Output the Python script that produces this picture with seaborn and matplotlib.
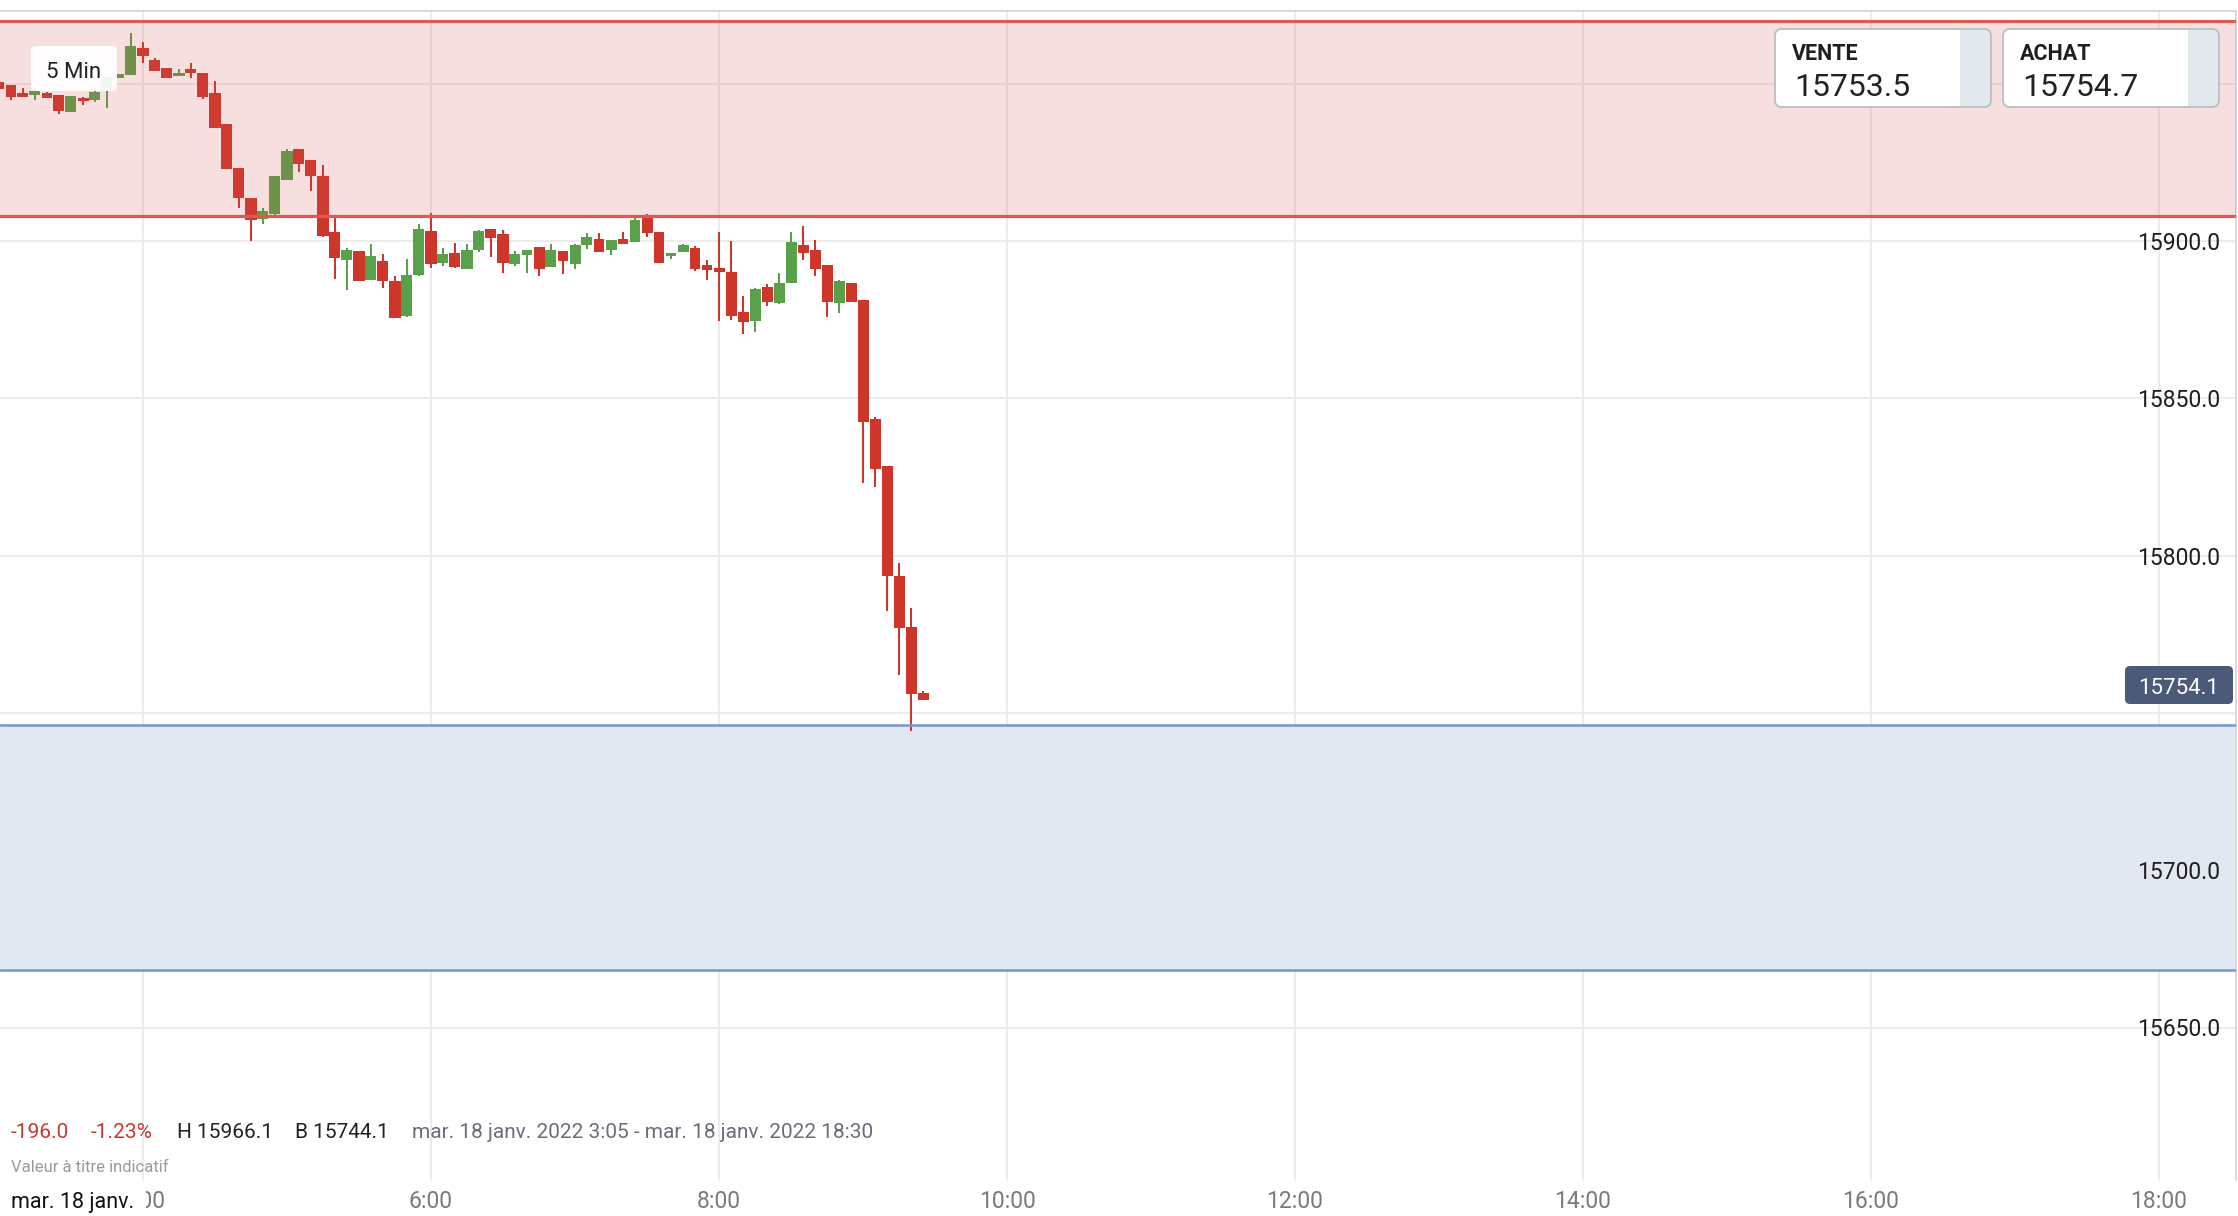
import matplotlib
matplotlib.use("Agg")
import matplotlib.pyplot as plt
import matplotlib.transforms as mtransforms
from matplotlib.patches import FancyBboxPatch, Rectangle
import pandas as pd
import seaborn as sns

# 5 minute candles, 18 Jan 2022 from 3:00
opens = [15950.5, 15949.6, 15947.0, 15946.5, 15947.0, 15946.4, 15941.1, 15945.5, 15944.8, 15948.0, 15951.9, 15952.8,
         15961.4, 15957.5, 15955.0, 15952.6, 15954.7, 15953.4, 15947.0, 15937.2, 15923.2, 15913.7, 15907.1, 15908.7,
         15919.5, 15929.2, 15925.8, 15920.7, 15902.9, 15894.0, 15896.8, 15887.6, 15893.6, 15887.3, 15876.2, 15889.2,
         15903.2, 15893.0, 15896.2, 15891.1, 15897.1, 15903.8, 15902.2, 15892.7, 15895.5, 15898.1, 15891.7, 15896.8,
         15892.7, 15898.7, 15900.6, 15897.1, 15900.6, 15899.7, 15907.6, 15902.9, 15895.2, 15896.5, 15897.8, 15892.4,
         15891.4, 15890.1, 15877.4, 15874.6, 15885.4, 15880.3, 15886.6, 15898.7, 15897.1, 15892.4, 15880.3, 15886.6,
         15881.2, 15843.4, 15828.5, 15793.5, 15777.3, 15756.3]
highs = [15950.5, 15949.6, 15948.6, 15948.5, 15947.5, 15946.4, 15946.1, 15945.8, 15948.5, 15952.2, 15953.1, 15966.1,
         15963.3, 15958.2, 15955.0, 15954.7, 15956.6, 15953.4, 15950.9, 15937.2, 15923.2, 15913.7, 15910.5, 15920.7,
         15929.4, 15929.2, 15925.8, 15924.2, 15907.3, 15897.8, 15896.8, 15899.0, 15895.9, 15888.9, 15894.3, 15905.4,
         15908.9, 15897.8, 15899.4, 15899.0, 15903.5, 15903.8, 15903.5, 15896.8, 15897.1, 15898.1, 15899.0, 15896.8,
         15899.0, 15902.5, 15902.5, 15900.3, 15902.9, 15907.3, 15908.5, 15902.9, 15896.2, 15899.1, 15898.4, 15894.0,
         15902.9, 15900.0, 15882.5, 15885.1, 15886.3, 15889.8, 15902.9, 15904.8, 15900.3, 15892.4, 15887.6, 15886.6,
         15881.2, 15844.1, 15828.5, 15797.6, 15783.3, 15757.0]
lows = [15948.4, 15944.8, 15945.9, 15944.8, 15945.6, 15940.5, 15941.1, 15943.3, 15944.2, 15942.3, 15951.9, 15952.8,
        15956.7, 15954.1, 15951.9, 15952.6, 15951.9, 15945.2, 15936.0, 15923.0, 15910.6, 15900.1, 15905.5, 15908.1,
        15919.5, 15922.0, 15916.0, 15901.4, 15888.0, 15884.4, 15887.3, 15887.6, 15885.1, 15875.6, 15875.9, 15888.9,
        15891.4, 15892.1, 15891.4, 15891.1, 15896.5, 15894.9, 15889.8, 15892.1, 15889.8, 15888.9, 15891.7, 15889.5,
        15891.1, 15897.5, 15896.5, 15895.5, 15899.1, 15899.7, 15901.3, 15893.0, 15894.3, 15896.5, 15890.5, 15887.6,
        15874.6, 15874.9, 15870.4, 15871.1, 15879.3, 15880.0, 15886.6, 15894.0, 15888.9, 15875.8, 15877.1, 15880.6,
        15823.1, 15821.8, 15782.4, 15762.0, 15744.1, 15754.1]
closes = [15948.4, 15945.9, 15945.9, 15947.7, 15945.6, 15941.4, 15946.1, 15944.6, 15947.4, 15952.2, 15953.1, 15962.0,
          15958.9, 15954.1, 15951.9, 15953.4, 15953.4, 15945.9, 15936.0, 15923.0, 15913.8, 15906.8, 15909.5, 15920.7,
          15928.6, 15924.6, 15920.8, 15901.7, 15894.7, 15897.2, 15887.3, 15895.2, 15887.3, 15875.6, 15889.2, 15903.8,
          15892.7, 15895.9, 15891.7, 15897.1, 15903.2, 15901.0, 15893.0, 15895.9, 15897.1, 15891.1, 15897.1, 15893.6,
          15898.7, 15901.3, 15896.5, 15900.3, 15899.1, 15906.7, 15902.5, 15893.0, 15896.2, 15898.7, 15891.1, 15890.8,
          15890.1, 15876.2, 15874.2, 15884.7, 15880.6, 15886.6, 15899.7, 15896.2, 15891.1, 15880.6, 15887.3, 15880.6,
          15842.5, 15827.5, 15793.6, 15777.0, 15756.0, 15754.1]

resistance_zone = [15908.0, 15970.0]
support_zone = [15668.2, 15746.0]
last_price = "15754.1"
sell_price = "15753.5"
buy_price = "15754.7"
hour_ticks = [4, 6, 8, 10, 12, 14, 16, 18]
price_ticks = [15650, 15700, 15750, 15800, 15850, 15900, 15950]
price_labels = ["15650.0", "15700.0", "", "15800.0", "15850.0", "15900.0", ""]

df = pd.DataFrame({"open": opens, "high": highs, "low": lows, "close": closes})
df["time"] = pd.date_range("2022-01-18 03:00", periods=len(df), freq="5min")
df["hour"] = df["time"].dt.hour + df["time"].dt.minute / 60
df["up"] = df["close"] >= df["open"]

sns.set_theme(style="white")
plt.rcParams["font.family"] = ["Roboto", "DejaVu Sans"]

W, H = 2238, 1216
RED, GREEN = "#cf362b", "#58a14a"
VA = "center_baseline"


def fx(x):
    return x / W


def fy(y):
    return 1 - y / H


fig = plt.figure(figsize=(W / 100, H / 100), dpi=100)
fig.patch.set_facecolor("white")
ax = fig.add_axes([0, fy(1180), fx(2236), (1180 - 11) / H])
ax.set_facecolor("white")

# candles
colors = [GREEN if u else RED for u in df["up"]]
ax.vlines(df["hour"], df["low"], df["high"], colors=colors, linewidth=1.45, zorder=2)
body = (df["close"] - df["open"]).abs().clip(lower=0.7)
ax.bar(df["hour"], body, bottom=df[["open", "close"]].min(axis=1), width=11 / 144,
       color=colors, linewidth=0, zorder=3)

# zones
ax.axhspan(resistance_zone[0], resistance_zone[1], color="#d9534f", alpha=0.18, lw=0, zorder=4)
for v in resistance_zone:
    ax.axhline(v, color="#dc5a52", lw=2.3, zorder=5)
ax.axhspan(support_zone[0], support_zone[1], color="#e1e8f2", lw=0, zorder=1)
for v in support_zone:
    ax.axhline(v, color="#7197cf", lw=1.8, zorder=5)

ax.set_xlim(4 - 143 / 144, 4 + (2236 - 143) / 144)
ax.set_ylim(15900 - 939 / 3.146, 15900 + 230 / 3.146)
ax.set_xticks(hour_ticks)
ax.set_yticks(price_ticks)
ax.set_axisbelow(True)
ax.grid(True, color="#ececec", lw=1.45)
ax.tick_params(length=0, labelbottom=False, labelleft=False)
for s in ["left", "bottom"]:
    ax.spines[s].set_visible(False)
for s in ["top", "right"]:
    ax.spines[s].set_color("#cdd4d8")
    ax.spines[s].set_linewidth(1.2)

# axis labels drawn as text
tx = mtransforms.blended_transform_factory(ax.transData, fig.transFigure)
for h in hour_ticks:
    ax.text(h, fy(1199), f"{h}:00", transform=tx, ha="center", va=VA,
            fontsize=16.5, color="#7a7a7a", clip_on=False)
ty = mtransforms.blended_transform_factory(fig.transFigure, ax.transData)
for p, lab in zip(price_ticks, price_labels):
    if lab:
        ax.text(fx(2220), p, lab, transform=ty, ha="right", va=VA,
                fontsize=16.5, color="#1e1e1e", zorder=6)

# bottom info line
info = [("-196.0", 11, "#c9382e"), ("-1.23%", 91, "#c9382e"), ("H 15966.1", 177, "#222222"),
        ("B 15744.1", 295, "#222222"),
        ("mar. 18 janv. 2022 3:05 - mar. 18 janv. 2022 18:30", 412, "#6c6c7c")]
for txt, x, c in info:
    fig.text(fx(x), fy(1131), txt, ha="left", va=VA, fontsize=15, color=c)
fig.text(fx(11), fy(1166), "Valeur à titre indicatif", ha="left", va=VA, fontsize=12, color="#9a9a9a")
fig.patches.append(Rectangle((0, 0), fx(146), fy(1184), transform=fig.transFigure,
                             facecolor="white", edgecolor="none", zorder=2))
fig.text(fx(11), fy(1200), "mar. 18 janv.", ha="left", va=VA, fontsize=15.5, color="#111111")


def rbox(x0, y0, x1, y1, fc, ec="none", lw=0, r=6, alpha=1.0, z=4):
    p = FancyBboxPatch((fx(x0), fy(y1)), fx(x1 - x0), (y1 - y0) / H,
                       boxstyle=f"round,pad=0,rounding_size={r / W}", mutation_aspect=W / H,
                       transform=fig.transFigure, facecolor=fc, edgecolor=ec, linewidth=lw,
                       alpha=alpha, zorder=z)
    fig.patches.append(p)


# timeframe label
rbox(31, 46, 117, 91, "white", r=5, alpha=0.92)
fig.text(fx(74), fy(70), "5 Min", ha="center", va=VA, fontsize=16, color="#222222", zorder=6)

# sell / buy boxes
for x0, x1, strip, title, val in [(1775, 1991, 1960, "VENTE", sell_price),
                                   (2003, 2219, 2188, "ACHAT", buy_price)]:
    rbox(x0, 29, x1, 107, "white", r=7)
    rbox(strip - 10, 29, x1, 107, "#e2e9ec", r=7)
    fig.patches.append(Rectangle((fx(strip - 11), fy(106)), fx(11), 77 / H, transform=fig.transFigure,
                                 facecolor="white", edgecolor="none", zorder=4))
    rbox(x0, 29, x1, 107, "none", ec="#b7bfc3", lw=1.3, r=7, z=5)
    fig.text(fx(x0 + 17), fy(51), title, ha="left", va=VA, fontsize=15.5,
             fontweight="bold", color="#1f1f1f", zorder=6)
    fig.text(fx(x0 + 19), fy(84), val, ha="left", va=VA, fontsize=23, color="#222222", zorder=6)

# last price tag
rbox(2125, 666, 2233, 704, "#4b5a78", r=5)
fig.text(fx(2179), fy(686), last_price, ha="center", va=VA, fontsize=16, color="white", zorder=6)

fig.savefig("out.png", dpi=100, facecolor="white")
